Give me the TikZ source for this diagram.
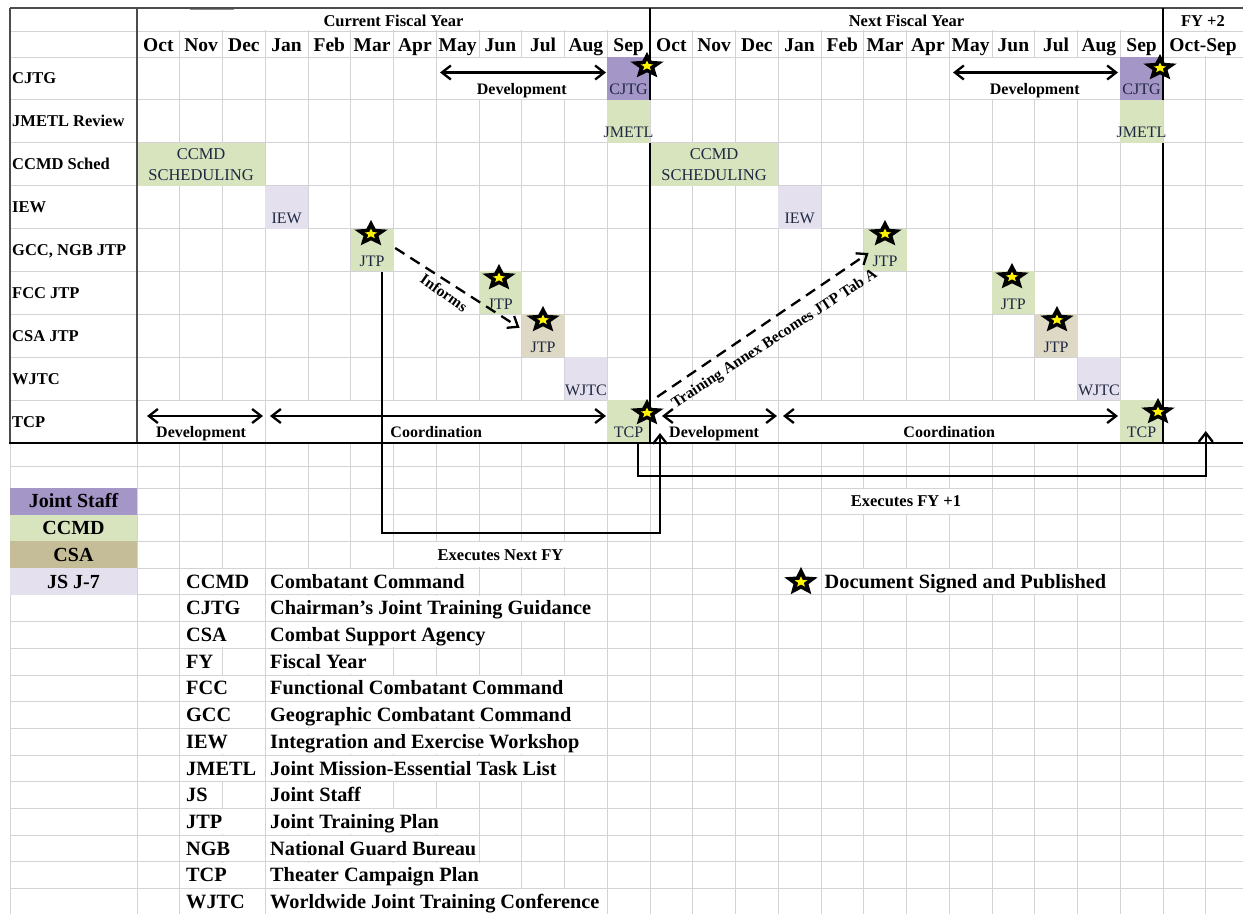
\documentclass[tikz,border=0pt]{standalone}
\usepackage{fontspec}
\setmainfont{Liberation Serif}
\usetikzlibrary{arrows.meta,calc}
\definecolor{gridc}{RGB}{210,210,215}
\definecolor{jsc}{RGB}{165,150,200}
\definecolor{ccmdc}{RGB}{216,228,190}
\definecolor{csac}{RGB}{221,217,196}
\definecolor{csaleg}{RGB}{196,189,151}
\definecolor{j7c}{RGB}{229,224,237}
\definecolor{celltxt}{RGB}{30,40,66}
\newcommand\fsz[1]{\fontsize{#1}{#1}\selectfont}
\tikzset{sstar/.pic={
  \fill[black] (-90:17.5) \foreach \i in {1,...,9} { -- ({-90+36*\i}:{mod(\i,2)==1 ? 7.9 : 17.5}) } -- cycle;
  \fill[yellow] (-90:6.6) \foreach \i in {1,...,9} { -- ({-90+36*\i}:{mod(\i,2)==1 ? 2.9 : 6.6}) } -- cycle;
  \coordinate (-c) at (0,0);
}}
\begin{document}
\begin{tikzpicture}[x=1pt,y=-1pt,
  >={Straight Barb[length=9pt,width=14pt]},
  grid/.style={draw=gridc,line width=0.8pt},
  cellbox/.style={minimum width=42.75pt,minimum height=42.89pt,inner sep=0pt,draw=none},
  ctext/.style={font=\fsz{16},text=celltxt,inner sep=0pt,text height=10.6pt,text depth=0pt},
  rowlbl/.style={font=\bfseries\fsz{16.5},anchor=west,inner sep=0pt,text height=10.9pt,text depth=0pt},
  month/.style={font=\bfseries\fsz{19.5},inner sep=0pt,text height=12.9pt,text depth=0pt},
  head/.style={font=\bfseries\fsz{16.5},inner sep=0pt,text height=10.9pt,text depth=0pt},
  spanlbl/.style={font=\bfseries\fsz{16},inner sep=0pt,text height=10.6pt,text depth=0pt},
  conn/.style={line width=2.3pt,draw=black},
  dconn/.style={conn,dash pattern=on 11pt off 7pt},
  thickb/.style={line width=2.6pt,draw=black},
  darkb/.style={line width=1.6pt,draw=black!70},
  leg/.style={font=\bfseries\fsz{20},inner sep=0pt,text height=13.2pt,text depth=0pt,minimum width=127pt,minimum height=26.7pt},
  gl/.style={font=\bfseries\fsz{20.3},anchor=west,fill=white,inner xsep=1.5pt,inner ysep=0pt,minimum height=25pt,text height=13.4pt,text depth=0pt},
  exe/.style={font=\bfseries\fsz{16.5},fill=white,inner xsep=2pt,inner ysep=0pt,minimum height=25pt,text height=10.9pt,text depth=0pt},
  rot/.style={font=\bfseries\fsz{15.5},inner sep=0pt,text height=10.3pt,text depth=0pt}]
\useasboundingbox (0,0) rectangle (1243,914);
\fill[white] (0,0) rectangle (1243,914);
% grid
\foreach \y in {8,31,57,99.89,142.78,185.67,228.56,271.44,314.33,357.22,400.11,443,466,488,514.7,541.4,568.1,594.8,621.5,648.2,674.9,701.6,728.3,755,781.7,808.4,835.1,861.8,888.5}
  \draw[grid] (10,\y) -- (1243,\y);
\draw[grid] (10,8) -- (10,914);
\foreach \k in {0,...,25} \draw[grid] ({137+42.75*\k},8) -- ({137+42.75*\k},914);
% merged cells
\fill[white] (137.7,8.7) rectangle (1243,30.3);
\fill[white] (1163.7,31.7) rectangle (1243,56.3);
\fill[white] (436.95,57.7) rectangle (606.55,99.2);
\fill[white] (949.95,57.7) rectangle (1119.55,99.2);
\fill[white] (137.7,400.8) rectangle (264.55,442.3);
\fill[white] (265.95,400.8) rectangle (606.55,442.3);
\fill[white] (650.7,400.8) rectangle (777.55,442.3);
\fill[white] (778.95,400.8) rectangle (1119.55,442.3);
% coloured cells
\node[cellbox,fill=jsc] (cjtga) at (628.625,78.44) {};
\node[cellbox,fill=jsc] (cjtgb) at (1141.625,78.44) {};
\node[cellbox,fill=ccmdc] (jmetla) at (628.625,121.33) {};
\node[cellbox,fill=ccmdc] (jmetlb) at (1141.625,121.33) {};
\node[cellbox,fill=ccmdc,minimum width=128.25pt] (scheda) at (201.125,164.22) {};
\node[cellbox,fill=ccmdc,minimum width=128.25pt] (schedb) at (714.125,164.22) {};
\node[cellbox,fill=j7c] (iewa) at (286.625,207.11) {};
\node[cellbox,fill=j7c] (iewb) at (799.625,207.11) {};
\node[cellbox,fill=ccmdc] (gcca) at (372.125,250) {};
\node[cellbox,fill=ccmdc] (gccb) at (885.125,250) {};
\node[cellbox,fill=ccmdc] (fcca) at (500.375,292.89) {};
\node[cellbox,fill=ccmdc] (fccb) at (1013.375,292.89) {};
\node[cellbox,fill=csac] (csaa) at (543.125,335.78) {};
\node[cellbox,fill=csac] (csab) at (1056.125,335.78) {};
\node[cellbox,fill=j7c] (wjtca) at (585.875,378.67) {};
\node[cellbox,fill=j7c] (wjtcb) at (1098.875,378.67) {};
\node[cellbox,fill=ccmdc] (tcpa) at (628.625,421.56) {};
\node[cellbox,fill=ccmdc] (tcpb) at (1141.625,421.56) {};
% legend
\node[leg,fill=jsc] (lgjs) at (73.5,501.35) {Joint Staff};
\node[leg,fill=ccmdc] (lgccmd) at (73.5,528.05) {CCMD};
\node[leg,fill=csaleg] (lgcsa) at (73.5,554.75) {CSA};
\node[leg,fill=j7c] (lgj7) at (73.5,581.45) {JS J-7};
% borders
\draw[black!45,line width=2.5pt] (190,9) -- (234,9);
\draw[black!70,line width=1.4pt] (10,8) -- (1243,8);
\draw[darkb] (10,8) -- (10,443);
\draw[darkb] (137,8) -- (137,443);
\draw[thickb] (650,8) -- (650,99.89);
\draw[thickb] (650,142.78) -- (650,443);
\draw[thickb] (1163,8) -- (1163,99.89);
\draw[thickb] (1163,142.78) -- (1163,443);
\draw[thickb] (9.2,443) -- (1243,443);
% headers
\node[head] (hcur) at (393.5,20.8) {Current Fiscal Year};
\node[head] (hnext) at (906.5,20.8) {Next Fiscal Year};
\node[head] (hfy2) at (1203,20.8) {FY +2};
\node[month] (hoctsep) at (1203,45) {Oct-Sep};
\foreach \m [count=\i from 0] in {Oct,Nov,Dec,Jan,Feb,Mar,Apr,May,Jun,Jul,Aug,Sep} {
  \node[month] (ma\i) at ({158.375+42.75*\i},45) {\m};
  \node[month] (mb\i) at ({158.375+42.75*(\i+12)},45) {\m};
}
\foreach \r [count=\i from 0] in {CJTG,JMETL Review,CCMD Sched,IEW,{GCC, NGB JTP},FCC JTP,CSA JTP,WJTC,TCP}
  \node[rowlbl] (rl\i) at (12,{78.44+42.889*\i}) {\r};
% cell texts
\node[ctext] (xcjtga) at (628.6,89.4) {CJTG};
\node[ctext] (xcjtgb) at (1141.6,89.4) {CJTG};
\node[ctext] (xjmetla) at (628.6,132.3) {JMETL};
\node[ctext] (xjmetlb) at (1141.6,132.3) {JMETL};
\node[ctext,font=\fsz{16.5}] (xscha1) at (201.1,154) {CCMD};
\node[ctext,font=\fsz{16.5}] (xscha2) at (201.1,175.5) {SCHEDULING};
\node[ctext,font=\fsz{16.5}] (xschb1) at (714.1,154) {CCMD};
\node[ctext,font=\fsz{16.5}] (xschb2) at (714.1,175.5) {SCHEDULING};
\node[ctext] (xiewa) at (286.6,218.1) {IEW};
\node[ctext] (xiewb) at (799.6,218.1) {IEW};
\node[ctext] (xgcca) at (372.1,261) {JTP};
\node[ctext] (xgccb) at (885.1,261) {JTP};
\node[ctext] (xfcca) at (500.4,303.9) {JTP};
\node[ctext] (xfccb) at (1013.4,303.9) {JTP};
\node[ctext] (xcsaa) at (543.1,346.8) {JTP};
\node[ctext] (xcsab) at (1056.1,346.8) {JTP};
\node[ctext] (xwjtca) at (585.9,389.7) {WJTC};
\node[ctext] (xwjtcb) at (1098.9,389.7) {WJTC};
\node[ctext] (xtcpa) at (628.6,432.6) {TCP};
\node[ctext] (xtcpb) at (1141.6,432.6) {TCP};
% span arrows
\coordinate (devA1) at (440,72.5); \coordinate (devA2) at (606,72.5);
\coordinate (devB1) at (953,72.5); \coordinate (devB2) at (1118,72.5);
\coordinate (tdA1) at (147,416); \coordinate (tdA2) at (263,416);
\coordinate (coA1) at (270,416); \coordinate (coA2) at (606,416);
\coordinate (tdB1) at (662,416); \coordinate (tdB2) at (777,416);
\coordinate (coB1) at (783,416); \coordinate (coB2) at (1118,416);
\draw[conn,<->] (devA1) -- (devA2);
\draw[conn,<->] (devB1) -- (devB2);
\draw[conn,<->] (tdA1) -- (tdA2);
\draw[conn,<->] (coA1) -- (coA2);
\draw[conn,<->] (tdB1) -- (tdB2);
\draw[conn,<->] (coB1) -- (coB2);
\node[spanlbl] (ldevA) at (521.75,89) {Development};
\node[spanlbl] (ldevB) at (1034.75,89) {Development};
\node[spanlbl] (ltdA) at (201.1,432) {Development};
\node[spanlbl] (lcoA) at (436.25,432) {Coordination};
\node[spanlbl] (ltdB) at (714.1,432) {Development};
\node[spanlbl] (lcoB) at (949.25,432) {Coordination};
% dashed connectors
\draw[dconn,->] ($(gcca.east)+(1.5,-2)$) -- ($(csaa.west)+(-2,-8)$);
\node[rot,rotate=-35] (linf) at (444,293) {Informs};
\draw[dconn,->] ($(tcpa.north east)+(7,-3)$) -- ($(gccb.west)+(5,3)$);
\node[rot,rotate=33] (ltrain) at (774,338) {Training Annex Becomes JTP Tab A};
% executes connectors
\coordinate (xnext) at (660,433);
\coordinate (xfy1) at (1205.75,431);
\draw[conn,->] ($(gcca.south)+(10,0)$) -- ++(0,261.6) -| (xnext);
\draw[conn,->] ($(tcpa.south)+(9.4,0)$) -- ++(0,33) -| (xfy1);
\node[exe] (lexfy1) at (906,501) {Executes FY +1};
\node[exe] (lexnext) at (500.5,554.75) {Executes Next FY};
% stars
\pic[yscale=0.8] (s1) at (647,66) {sstar};
\pic[yscale=0.8] (s2) at (1160,68) {sstar};
\pic[yscale=0.8] (s3) at (371,234) {sstar};
\pic[yscale=0.8] (s4) at (885,234) {sstar};
\pic[yscale=0.8] (s5) at (499,278) {sstar};
\pic[yscale=0.8] (s6) at (1012,277) {sstar};
\pic[yscale=0.8] (s7) at (543,320) {sstar};
\pic[yscale=0.8] (s8) at (1057,320) {sstar};
\pic[yscale=0.8] (s9) at (647,413) {sstar};
\pic[yscale=0.8] (s10) at (1158,412) {sstar};
\pic[yscale=0.86] (slg) at (801,582) {sstar};
\node[gl] (lsig) at (823,581.45) {Document Signed and Published};
% glossary
\foreach \a/\d [count=\j from 0] in {CCMD/Combatant Command,CJTG/Chairman's Joint Training Guidance,CSA/Combat Support Agency,FY/Fiscal Year,FCC/Functional Combatant Command,GCC/Geographic Combatant Command,IEW/Integration and Exercise Workshop,JMETL/Joint Mission-Essential Task List,JS/Joint Staff,JTP/Joint Training Plan,NGB/National Guard Bureau,TCP/Theater Campaign Plan,WJTC/Worldwide Joint Training Conference} {
  \node[gl] (ga\j) at (184.5,{581.45+26.7*\j}) {\a};
  \node[gl] (gd\j) at (268.5,{581.45+26.7*\j}) {\d};
}
\end{tikzpicture}
\end{document}
